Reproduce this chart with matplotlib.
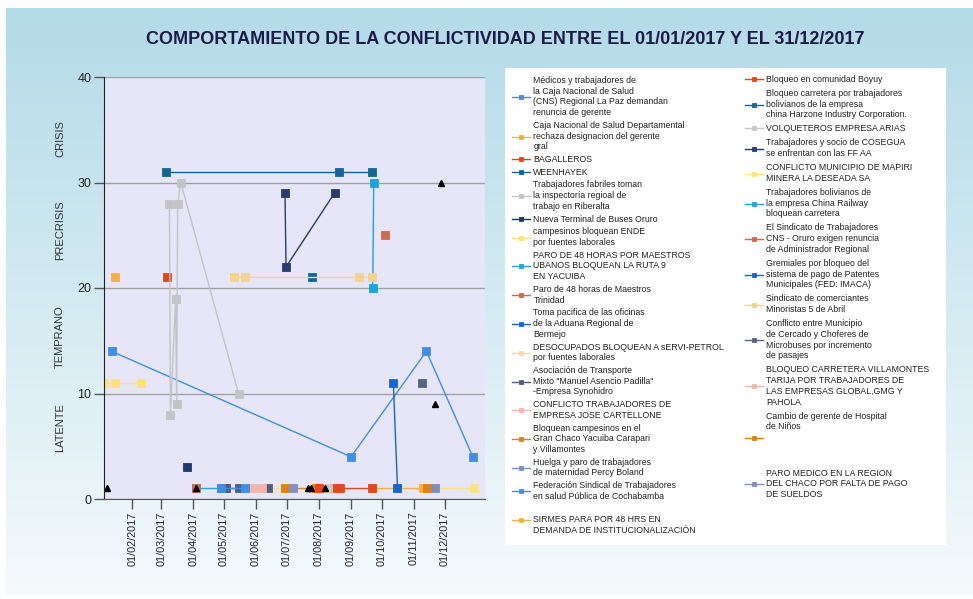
import matplotlib
matplotlib.use("Agg")
import matplotlib.pyplot as plt
import matplotlib.dates as mdates
import numpy as np
from datetime import datetime
from matplotlib.patches import Rectangle

# ---- Data ----
etiquetas = [
    "Médicos y trabajadores de\nla Caja Nacional de Salud\n(CNS) Regional La Paz demandan\nrenuncia de gerente",
    "Caja Nacional de Salud Departamental\nrechaza designacion del gerente\ngral",
    "BAGALLEROS",
    "WEENHAYEK",
    "Trabajadores fabriles toman\nla inspectoría regioal de\ntrabajo en Riberalta",
    "Nueva Terminal de Buses Oruro",
    "campesinos bloquean ENDE\npor fuentes laborales",
    "PARO DE 48 HORAS POR MAESTROS\nUBANOS BLOQUEAN LA RUTA 9\nEN YACUIBA",
    "Paro de 48 horas de Maestros\nTrinidad",
    "Toma pacifica de las oficinas\nde la Aduana Regional de\nBermejo",
    "DESOCUPADOS BLOQUEAN A sERVI-PETROL\npor fuentes laborales",
    "Asociación de Transporte\nMixto \"Manuel Asencio Padilla\"\n-Empresa Synohidro",
    "CONFLICTO TRABAJADORES DE\nEMPRESA JOSE CARTELLONE",
    "Bloquean campesinos en el\nGran Chaco Yacuiba Carapari\ny Villamontes",
    "Huelga y paro de trabajadores\nde maternidad Percy Boland",
    "Federación Sindical de Trabajadores\nen salud Pública de Cochabamba",
    "\nSIRMES PARA POR 48 HRS EN\nDEMANDA DE INSTITUCIONALIZACIÓN",
    "Bloqueo en comunidad Boyuy",
    "Bloqueo carretera por trabajadores\nbolivianos de la empresa\nchina Harzone Industry Corporation.",
    "VOLQUETEROS EMPRESA ARIAS",
    "Trabajadores y socio de COSEGUA\nse enfrentan con las FF AA",
    "CONFLICTO MUNICIPIO DE MAPIRI\nMINERA LA DESEADA SA",
    "Trabajadores bolivianos de\nla empresa China Railway\nbloquean carretera",
    "El Sindicato de Trabajadores\nCNS - Oruro exigen renuncia\nde Administrador Regional",
    "Gremiales por bloqueo del\nsistema de pago de Patentes\nMunicipales (FED: IMACA)",
    "Sindicato de comerciantes\nMinoristas 5 de Abril",
    "Conflicto entre Municipio\nde Cercado y Choferes de\nMicrobuses por incremento\nde pasajes",
    "BLOQUEO CARRETERA VILLAMONTES\nTARIJA POR TRABAJADORES DE\nLAS EMPRESAS GLOBAL,GMG Y\nPAHOLA",
    "Cambio de gerente de Hospital\nde Niños\n\n\n",
    "PARO MEDICO EN LA REGION\nDEL CHACO POR FALTA DE PAGO\nDE SUELDOS",
]

fechas = [
    ["2017-01-12", "2017-09-01", "2017-11-13", "2017-12-28"],
    ["2017-01-15"],
    ["2017-03-07"],
    ["2017-03-06", "2017-08-20", "2017-09-21"],
    ["2017-03-09", "2017-03-10", "2017-03-15", "2017-03-16", "2017-03-17", "2017-03-20", "2017-05-15"],
    ["2017-03-26"],
    ["2017-01-05", "2017-01-15", "2017-02-09"],
    ["2017-04-04", "2017-04-28"],
    ["2017-04-04"],
    ["2017-05-03"],
    ["2017-06-13", "2017-06-29"],
    ["2017-05-03", "2017-05-15", "2017-06-13"],
    ["2017-05-29"],
    ["2017-06-29", "2017-07-29"],
    ["2017-07-07"],
    ["2017-04-28", "2017-05-21"],
    ["2017-09-21", "2017-10-16", "2017-11-10"],
    ["2017-08-01", "2017-08-16", "2017-08-21", "2017-09-21"],
    ["2017-07-25"],
    ["2017-08-10"],
    ["2017-06-29", "2017-06-30", "2017-08-16"],
    ["2017-11-21", "2017-12-29"],
    ["2017-09-22", "2017-09-23"],
    ["2017-10-04"],
    ["2017-10-12", "2017-10-16"],
    ["2017-05-11", "2017-05-21", "2017-09-09", "2017-09-21"],
    ["2017-11-09"],
    ["2017-06-07"],
    ["2017-11-14"],
    ["2017-11-21"],
]

niveles = [
    [14, 4, 14, 4],
    [21],
    [21],
    [31, 31, 31],
    [28, 8, 19, 9, 28, 30, 10],
    [3],
    [11, 11, 11],
    [1, 1],
    [1],
    [1],
    [1, 1],
    [1, 1, 1],
    [1],
    [1, 1],
    [1],
    [1, 1],
    [1, 1, 1],
    [1, 1, 1, 1],
    [21],
    [1],
    [29, 22, 29],
    [1, 1],
    [20, 30],
    [25],
    [11, 1],
    [21, 21, 21, 21],
    [11],
    [1],
    [1],
    [1],
]

# unlabelled black triangle markers
hitos_fechas = ["2017-01-08", "2017-04-04", "2017-07-21", "2017-07-24", "2017-08-07", "2017-11-21", "2017-11-27"]
hitos_niveles = [1, 1, 1, 1, 1, 9, 30]

fases = ["LATENTE", "TEMPRANO", "PRECRISIS", "CRISIS"]
fases_centro = [6.8, 15.4, 25.5, 34.2]

colores = [
    "#3f8fe8", "#f7b03a", "#e3461b", "#0f6796", "#c4c4c4", "#1e3a6a",
    "#ffe07a", "#1ea6e0", "#cf6a48", "#1266dc", "#fbdc8c", "#4e5f80",
    "#f3b7a9", "#e5820c", "#7d92c0", "#3f8fe8", "#f6b13c",
    "#e1491c", "#11689a", "#c8c8c8", "#263d6e", "#ffe37d", "#1ba4e0",
    "#d26a4a", "#1464da", "#f4d38a", "#556582", "#f4b4a6", "#e2820e",
    "#7a8fbd",
]

FONT = ["Liberation Sans", "DejaVu Sans"]
plt.rcParams["font.family"] = FONT


def d(s):
    return datetime.strptime(s, "%Y-%m-%d")


W, H = 973, 599
fig = plt.figure(figsize=(W / 100, H / 100), dpi=100)
fig.patch.set_facecolor("white")

# ---- background panel with gradient ----
bg = fig.add_axes([0, 0, 1, 1], zorder=-2)
bg.set_xlim(0, W)
bg.set_ylim(H, 0)
bg.axis("off")
top = np.array([0xb3, 0xdb, 0xe8]) / 255
bot = np.array([0xf5, 0xfa, 0xfc]) / 255
t = np.linspace(0, 1, 256)[:, None, None]
grad = top * (1 - t) + bot * t
bg.imshow(grad, extent=(6, W, 595, 8), aspect="auto", zorder=0)
bg.add_patch(Rectangle((505, 68), 441, 477, facecolor="white", edgecolor="none", zorder=1))

# ---- title ----
fig.text(505.5 / W, 1 - 40 / H,
         "COMPORTAMIENTO DE LA CONFLICTIVIDAD ENTRE EL 01/01/2017 Y EL 31/12/2017",
         ha="center", va="center", fontsize=13, fontweight="bold", color="#1b1b4b")

# ---- main plot ----
ax = fig.add_axes([104 / W, 1 - 499 / H, (485 - 104) / W, (499 - 77) / H])
ax.set_facecolor("#e6e6f8")

for lab, fs, vs, col in zip(etiquetas, fechas, niveles, colores):
    ax.plot([d(f) for f in fs], vs, color=col, lw=1.0, marker="s", ms=6,
            mec=col, mew=0.6, label=lab)

ax.plot([d(f) for f in hitos_fechas], hitos_niveles, ls="none", marker="^",
        ms=5, color="black", label="_nolegend_")

ax.set_ylim(0, 40)
ax.set_yticks([0, 10, 20, 30, 40])
ax.set_xlim(datetime(2017, 1, 4, 15), datetime(2018, 1, 8, 19))
ax.xaxis.set_major_locator(mdates.MonthLocator(bymonth=range(2, 13)))
ax.xaxis.set_major_formatter(mdates.DateFormatter("%d/%m/%Y"))
ax.yaxis.grid(True, color="#a0a0a0", lw=1)
ax.set_axisbelow(True)
for s in ("top", "right"):
    ax.spines[s].set_visible(False)
ax.spines["left"].set_color("#222222")
ax.spines["bottom"].set_color("#555555")
ax.tick_params(axis="y", length=7, width=1, color="#555555", labelsize=9,
               pad=2, labelcolor="#222222")
ax.tick_params(axis="x", length=7, width=1, color="#555555", labelsize=7.8,
               pad=2, labelcolor="#222222", labelrotation=90)

for nombre, yc in zip(fases, fases_centro):
    ax.text(-0.1155, yc, nombre, transform=ax.get_yaxis_transform(),
            rotation=90, ha="center", va="center", fontsize=8, color="#333333")

# ---- legends (two columns) ----
h, l = ax.get_legend_handles_labels()
kw = dict(loc="upper left", frameon=False, fontsize=6.3, handlelength=2.0,
          handletextpad=0.45, borderpad=0, borderaxespad=0,
          markerscale=0.45, labelcolor="#222222")
leg1 = fig.legend(h[:17], l[:17], bbox_to_anchor=(512 / W, 1 - 76 / H),
                  labelspacing=0.42, **kw)
leg2 = fig.legend(h[17:], l[17:], bbox_to_anchor=(745 / W, 1 - 75 / H),
                  labelspacing=0.57, **kw)
for leg in (leg1, leg2):
    for txt in leg.get_texts():
        txt.set_linespacing(1.25)

fig.savefig("out.png", dpi=100, facecolor="white")
